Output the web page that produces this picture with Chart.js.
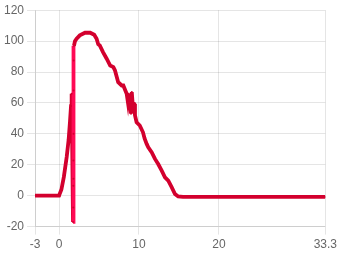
<!DOCTYPE html>
<html><head><meta charset="utf-8">
<script src="https://cdn.jsdelivr.net/npm/chart.js@4"></script>
<style>html,body{margin:0;padding:0;background:#fff}</style>
</head><body>
<canvas id="c" width="340" height="255"></canvas>
<script>
const xValues = [-3,-2,-1,0,0.1,0.3,0.6,0.96,1.2,1.375,1.5,1.58,1.75,1.78,1.79,1.8,1.8,1.81,1.82,1.83,1.87,2.0,2.2,2.6,3.25,3.9,4.4,4.7,4.9,5.1,5.5,5.96,6.4,6.8,7.0,7.4,7.84,8.04,8.46,8.6,8.7,8.8,8.9,9.0,9.1,9.2,9.4,9.5,9.7,10.1,10.5,10.7,10.96,11.16,11.6,12,12.4,12.84,13.25,13.66,14.1,14.5,14.9,15.5,20,25,33.3];
const yValues = [0,0,0,0,0,4,12,25,36,48,58,66,-17,-7.7,6.5,11,22.7,40,68,87.5,97,100,101.5,103.7,105.4,105.4,104.1,101.5,98,97.2,92.9,88.6,84.2,83.2,81,73.4,71.3,71.3,65.9,61,66,58,62,53,67,60,59.4,52,47.5,45.4,41,37,33.5,31.3,28,23.8,20.5,16.2,11.9,9.7,5.4,1.1,-0.5,-0.8,-0.8,-0.8,-0.8];
const xTicks = [-3,0,10,20,33.3];
const yMin = -20, yMax = 120, yStep = 20;
const lineColor = '#d3002e';
const jumpColor = '#ff0a55';
const jumpRange = [1.6, 1.9];

const points = xValues.map((x,i)=>({x:x,y:yValues[i]}));
new Chart(document.getElementById('c'), {
  type:'line',
  data:{datasets:[{
    data:points,
    borderColor:lineColor,
    backgroundColor:lineColor,
    borderWidth:3.8,
    pointRadius:1,
    pointBorderWidth:0,
    pointBackgroundColor:lineColor,
    tension:0,
    fill:false,
    segment:{borderColor:ctx=>{
      const x0=ctx.p0.parsed.x, x1=ctx.p1.parsed.x;
      return (x0>=jumpRange[0]&&x1<=jumpRange[1])?jumpColor:lineColor;
    }}
  }]},
  options:{
    responsive:false,animation:false,
    layout:{padding:{top:4,right:4,left:1,bottom:0}},
    plugins:{legend:{display:false},tooltip:{enabled:false}},
    scales:{
      x:{type:'linear',min:-3,max:33.3,
        afterBuildTicks:s=>{s.ticks=xTicks.map(v=>({value:v}));},
        ticks:{color:'#666',font:{size:12},maxRotation:0,callback:v=>String(v)}},
      y:{min:yMin,max:yMax,ticks:{stepSize:yStep,color:'#666',font:{size:12}}}
    }
  }
});
</script>
</body></html>
